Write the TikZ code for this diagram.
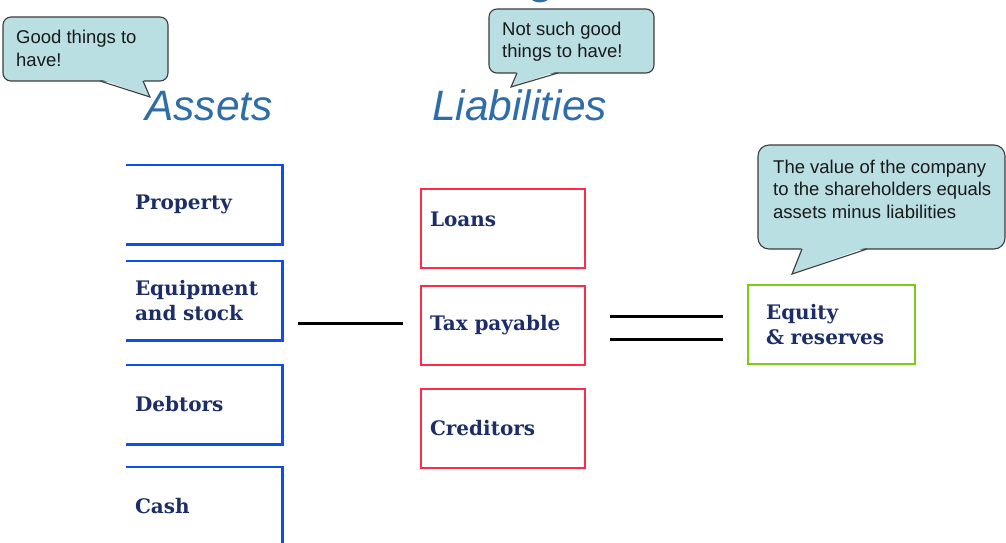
\documentclass[tikz,border=0pt]{standalone}
\usepackage{fontspec}
\setmainfont{Liberation Sans}
\newfontfamily\slabfont{DejaVu Serif}
\usetikzlibrary{positioning, calc}
\definecolor{headblue}{HTML}{2E6DA8}
\definecolor{assetblue}{HTML}{0A50F0}
\definecolor{liabred}{HTML}{FF2A48}
\definecolor{equitygreen}{HTML}{7ACC14}
\definecolor{itemnavy}{HTML}{1C2D68}
\definecolor{bubblefill}{HTML}{BADFE2}
\definecolor{bubbleline}{HTML}{3C3C3C}

\begin{document}
\begin{tikzpicture}[x=1pt, y=-1pt,
  heading/.style={inner sep=0pt, text=headblue,
    font=\fontsize{42.5}{48}\selectfont\itshape},
  item/.style={minimum height=79pt, inner xsep=9pt, text width=#1,
    align=left, text=itemnavy,
    font=\slabfont\bfseries\fontsize{20}{24.5}\selectfont},
  asset/.style={item=138pt},
  liability/.style={item=146pt, draw=liabred, line width=2pt},
  equity/.style={item=131pt, inner xsep=18pt, draw=equitygreen, line width=2.6pt},
  assetline/.style={draw=assetblue, line width=2.6pt},
  sign/.style={draw=black, line width=3pt},
  bubble/.style={fill=bubblefill, draw=bubbleline, line width=1.1pt},
  calltext/.style={inner sep=0pt, anchor=north west, align=left,
    font=\fontsize{18.5}{22.5}\selectfont, text=black!90}
]
  \useasboundingbox (0,0) rectangle (1006,542);

  % cut-off title
  \node[anchor=base, inner sep=0pt, text=headblue,
    font=\fontsize{44}{50}\selectfont\bfseries] (titleg) at (541,-7) {g};

  % headings
  \node[heading, anchor=base west] (assets) at (145,120) {Assets};
  \node[heading, anchor=base west] (liabs) at (432,120) {Liabilities};

  % assets
  \node[asset] (property) at (204,204.5) {Property};
  \node[asset] (equip) at (204,300.5) {Equipment\\and stock};
  \node[asset] (debtors) at (204,404.5) {Debtors};
  \node[asset] (cash) at (204,506.5) {Cash};
  \foreach \n in {property, equip, debtors, cash}
    \draw[assetline] (\n.north west) -| (\n.south east) -- (\n.south west);

  % liabilities
  \node[liability, text depth=18pt] (loans) at (503,228.5) {Loans};
  \node[liability] (tax) at (503,325) {Tax payable};
  \node[liability] (creditors) at (503,428) {Creditors};

  % equity
  \node[equity] (equity) at (831.5,324.5) {Equity\\\& reserves};

  % assets - liabilities = equity
  \draw[sign] ($(equip.east |- tax.west)+(16,-2)$) -- ($(tax.west)+(-17,-2)$);
  \draw[sign] ($(tax.east)+(24,-9)$) -- ($(equity.west |- tax.east)+(-24,-9)$);
  \draw[sign] ($(tax.east)+(24,14)$) -- ($(equity.west |- tax.east)+(-24,14)$);

  % callouts
  \filldraw[bubble, rounded corners=8pt] (3,17) rectangle (168,81);
  \fill[bubblefill] (100,79) -- (150,97) -- (143,79) -- cycle;
  \draw[bubble, fill=none] (100,81) -- (150,97) -- (143,81);
  \node[calltext] (good) at (16,30) {Good things to\\have!};

  \filldraw[bubble, rounded corners=8pt] (489,9) rectangle (654,73);
  \fill[bubblefill] (517,71) -- (511,87) -- (558,71) -- cycle;
  \draw[bubble, fill=none] (517,73) -- (511,87) -- (558,73);
  \node[calltext] (notgood) at (502,21.5) {Not such good\\things to have!};

  \filldraw[bubble, rounded corners=11pt] (758,145) rectangle (1005,249);
  \fill[bubblefill] (802,247) -- (792,274) -- (867,247) -- cycle;
  \draw[bubble, fill=none] (802,249) -- (792,274) -- (867,249);
  \node[calltext] (value) at (773,159.5)
    {The value of the company\\to the shareholders equals\\assets minus liabilities};
\end{tikzpicture}
\end{document}
